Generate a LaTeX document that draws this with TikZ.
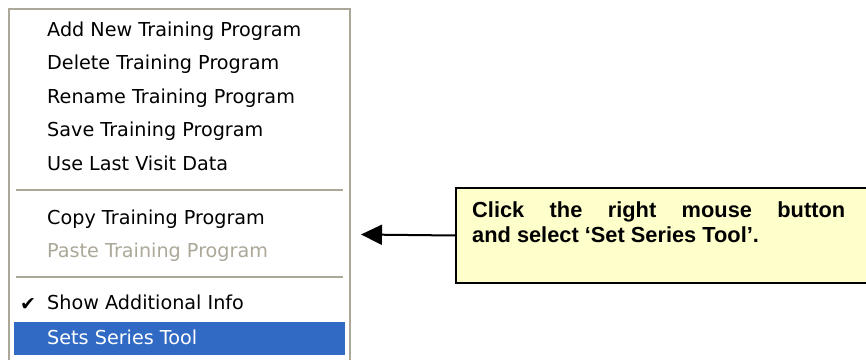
\documentclass[tikz,border=0pt]{standalone}
\usepackage{fontspec}
\usepackage{xcolor}
\usepackage{tikz}
\usetikzlibrary{arrows.meta}

\newfontfamily\menufont{DejaVu Sans}
\newfontfamily\notefont{Liberation Sans}

\definecolor{xpgray}{RGB}{172,168,153}
\definecolor{xpblue}{RGB}{49,106,197}
\definecolor{noteyellow}{RGB}{255,255,204}

\begin{document}
\begin{tikzpicture}[x=1pt, y=1pt]
		% Define styles with simple colors
		\tikzstyle{menubox} = [draw=xpgray, line width=1.5pt, fill=white]
		\tikzstyle{menuitem} = [anchor=base west, inner sep=0pt, font=\menufont\fontsize{19.2}{21}\selectfont]
		\tikzstyle{greyitem} = [menuitem, text=xpgray]
		\tikzstyle{selitem} = [menuitem, text=white]
		\tikzstyle{separator} = [draw=xpgray, line width=1.5pt]
		\tikzstyle{callbox} = [rectangle, draw=black, line width=2pt, fill=noteyellow, anchor=north west, minimum width=440pt, minimum height=95pt]
		\tikzstyle{calltext} = [anchor=north west, inner sep=0pt, text width=373pt, align=justify, font=\notefont\bfseries\fontsize{21.8}{25}\selectfont]
		\tikzstyle{arrow} = [line width=2pt, -{Triangle[length=21pt, width=20pt]}]

		\useasboundingbox (0,0) rectangle (866,359);

		% Menu frame, selection bar and separators
		\draw[menubox] (9,350) rectangle (350,-10);
		\fill[xpblue] (14,37) rectangle (345,4);
		\draw[separator] (16,169) -- (343,169);
		\draw[separator] (16,82) -- (343,82);

		% Menu entries
		\node[menuitem] (addprog) at (47,322.5) {Add New Training Program};
		\node[menuitem] (delprog) at (47,289) {Delete Training Program};
		\node[menuitem] (renprog) at (47,255.5) {Rename Training Program};
		\node[menuitem] (saveprog) at (47,222) {Save Training Program};
		\node[menuitem] (lastvisit) at (47,188) {Use Last Visit Data};
		\node[menuitem] (copyprog) at (47,134.5) {Copy Training Program};
		\node[greyitem] (pasteprog) at (47,101.5) {Paste Training Program};
		\node[menuitem] (addinfo) at (47,49.5) {Show Additional Info};
		\node[selitem] (seriestool) at (47,15) {Sets Series Tool};
		\node[inner sep=0pt, font=\menufont\fontsize{19}{19}\selectfont] (tick) at (28,54) {✔};

		% Callout
		\node[callbox] (callout) at (455,172) {};
		\node[calltext] (note) at (472,157.5) {Click the right mouse button\linebreak and select ‘Set Series Tool’.};
		\coordinate (tip) at (361,124.5);

		% Arrow
		\draw[arrow] (callout.west) -- (tip);
	\end{tikzpicture}
\end{document}
